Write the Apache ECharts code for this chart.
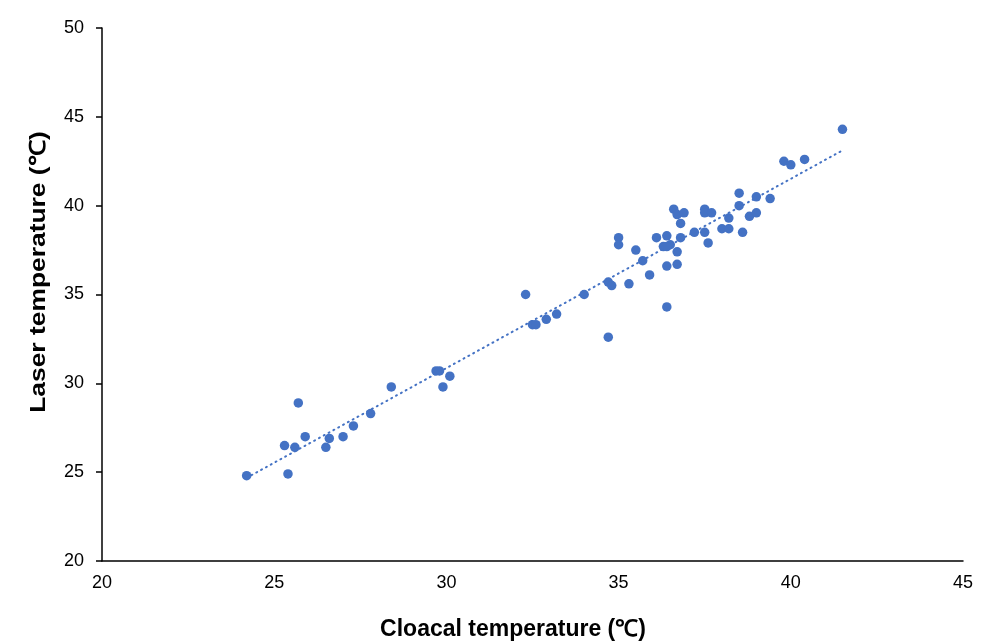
<!DOCTYPE html>
<html>
<head>
<meta charset="utf-8">
<script src="https://cdn.jsdelivr.net/npm/echarts@6/dist/echarts.min.js"></script>
<style>
    html, body { margin: 0; padding: 0; background: #fff; }
    #chart { width: 981px; height: 643px; }
</style>
</head>
<body>
<div id="chart"></div>
<script>
// 泄殖腔温度 (x) 与激光温度 (y)
const cloacal = [
    24.2, 25.4, 25.7, 25.3, 25.6, 25.9, 26.5, 26.6, 27.0, 27.3, 27.8, 28.4,
    29.7, 29.8, 30.1, 29.9,
    32.3, 32.5, 32.6, 32.9, 33.2, 34.0, 34.7, 34.8, 34.7,
    35.0, 35.0, 35.3, 35.5, 35.7, 35.9, 36.1, 36.4, 36.3, 36.5, 36.4, 36.4,
    36.7, 36.7, 36.4, 36.8, 36.8, 36.6, 36.7, 36.9, 37.2, 37.5, 37.5, 37.7,
    37.5, 37.6, 38.0, 38.2, 38.2, 38.5, 38.5, 38.6, 38.8, 39.0, 39.0, 39.4,
    39.8, 40.0, 40.4, 41.5
]
const laser = [
    24.8, 24.9, 28.9, 26.5, 26.4, 27.0, 26.4, 26.9, 27.0, 27.6, 28.3, 29.8,
    30.7, 30.7, 30.4, 29.8,
    35.0, 33.3, 33.3, 33.6, 33.9, 35.0, 35.7, 35.5, 32.6,
    38.2, 37.8, 35.6, 37.5, 36.9, 36.1, 38.2, 38.3, 37.7, 37.8, 37.7, 34.3,
    37.4, 36.7, 36.6, 38.2, 39.0, 39.8, 39.5, 39.6, 38.5, 39.8, 39.6, 39.6,
    38.5, 37.9, 38.7, 38.7, 39.3, 40.7, 40.0, 38.5, 39.4, 39.6, 40.5, 40.4,
    42.5, 42.3, 42.6, 44.3
]

const xTicks = [20, 25, 30, 35, 40, 45]
const yTicks = [20, 25, 30, 35, 40, 45, 50]

const xTitle = 'Cloacal temperature (℃)'
const yTitle = 'Laser temperature (℃)'

const blue = '#4472C4'
const font = 'Liberation Sans, Arial, sans-serif'

// 线性趋势线 (最小二乘)
const n = cloacal.length
const mx = cloacal.reduce((a, b) => a + b, 0) / n
const my = laser.reduce((a, b) => a + b, 0) / n
let sxy = 0
let sxx = 0
for (let i = 0; i < n; i++) {
    sxy += (cloacal[i] - mx) * (laser[i] - my)
    sxx += (cloacal[i] - mx) * (cloacal[i] - mx)
}
const slope = sxy / sxx
const intercept = my - slope * mx
const xMin = Math.min(...cloacal)
const xMax = Math.max(...cloacal)
const trend = [
    [xMin, intercept + slope * xMin],
    [xMax, intercept + slope * xMax],
]

const chart = echarts.init(document.getElementById('chart'))
chart.setOption({
    animation: false,
    grid: {
        left: 102,
        right: 18,
        top: 28,
        bottom: 82,
    },
    // 坐标轴标题
    graphic: [
        {
            type: 'text',
            x: 513,
            y: 630,
            style: {
                text: xTitle,
                fill: '#000',
                font: 'bold 23px ' + font,
                textAlign: 'center',
                textVerticalAlign: 'middle',
            },
        },
        {
            type: 'text',
            x: 39,
            y: 272,
            rotation: Math.PI / 2,
            scaleX: 1.2,
            style: {
                text: yTitle,
                fill: '#000',
                font: 'bold 22px ' + font,
                textAlign: 'center',
                textVerticalAlign: 'middle',
            },
        },
    ],
    xAxis: {
        type: 'value',
        min: xTicks[0],
        max: xTicks[xTicks.length - 1],
        interval: 5,
        splitLine: { show: false },
        axisTick: { show: false },
        axisLine: { show: true, lineStyle: { color: '#000', width: 1.5 } },
        axisLabel: {
            color: '#000',
            fontFamily: font,
            fontSize: 18,
            margin: 13,
        },
    },
    yAxis: {
        type: 'value',
        min: yTicks[0],
        max: yTicks[yTicks.length - 1],
        interval: 5,
        splitLine: { show: false },
        axisTick: { show: true, length: 6, lineStyle: { color: '#000', width: 1.5 } },
        axisLine: { show: true, lineStyle: { color: '#000', width: 1.5 } },
        axisLabel: {
            color: '#000',
            fontFamily: font,
            fontSize: 18,
            margin: 18,
        },
    },
    series: [
        {
            type: 'line',
            data: trend,
            symbol: 'none',
            lineStyle: {
                color: blue,
                width: 2,
                type: [1, 4.5],
                cap: 'round',
            },
            z: 1,
        },
        {
            type: 'scatter',
            data: cloacal.map((x, i) => [x, laser[i]]),
            symbol: 'circle',
            symbolSize: 9.5,
            itemStyle: { color: blue, opacity: 1 },
            z: 2,
        },
    ],
})
</script>
</body>
</html>
